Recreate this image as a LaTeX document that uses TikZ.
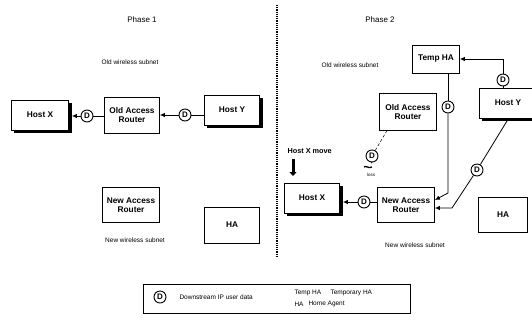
\documentclass[tikz,border=0pt]{standalone}
\usepackage{fontspec}
\setmainfont{Liberation Sans}
\usetikzlibrary{arrows.meta,calc}
\tikzset{
  box/.style={draw,line width=0.8pt,minimum width=#1,align=center,font=\fontsize{8.3}{9.3}\selectfont\bfseries,inner sep=1pt,fill=white},
  dcirc/.style={circle,draw,line width=0.9pt,inner sep=0pt,minimum size=12pt,fill=white,font=\fontsize{8}{8}\selectfont\bfseries},
  lbl/.style={font=\fontsize{6.5}{7.5}\selectfont},
  ttl/.style={font=\fontsize{8}{9}\selectfont},
  conn/.style={line width=0.8pt},
  arr/.style={line width=0.8pt,-{Latex[length=5pt,width=4.5pt]}}
}
\begin{document}
\begin{tikzpicture}[x=1pt,y=-1pt]
\useasboundingbox (0,0) rectangle (532,325);
% divider
\draw[line width=1.2pt,densely dotted] (277,5) -- (277,256);
% ---------- Phase 1 ----------
\node[ttl] (t1) at (142,20) {Phase 1};
\node[lbl] (ows1) at (130,62) {Old wireless subnet};
\node[box=57pt,minimum height=30pt] (hx1) at (40,115) {Host X};
\node[box=55pt,minimum height=36pt] (oar1) at (132,115) {Old Access\\Router};
\node[box=55pt,minimum height=30pt] (hy1) at (232,110) {Host Y};
\node[dcirc] (d1) at (87,116) {D};
\node[dcirc] (d2) at (185,115) {D};
\draw[conn] (oar1.west |- d1) -- (d1);
\draw[arr] (d1) -- ([xshift=3pt]hx1.east |- d1);
\draw[conn] (hy1.west |- d2) -- (d2);
\draw[arr] (d2) -- (oar1.east |- d2);
\node[box=57pt,minimum height=35pt] (nar1) at (131,205) {New Access\\Router};
\node[lbl] (nws1) at (135,240) {New wireless subnet};
\node[box=55pt,minimum height=36pt] (ha1) at (232,225) {HA};
% ---------- Phase 2 ----------
\node[ttl] (t2) at (380,20) {Phase 2};
\node[lbl] (ows2) at (350,65) {Old wireless subnet};
\node[box=47pt,minimum height=28pt] (tha) at (436,59) {Temp HA};
\node[box=58pt,minimum height=30pt] (hy2) at (508,103) {Host Y};
\node[box=57pt,minimum height=37pt] (oar2) at (408,112) {Old Access\\Router};
\node[dcirc] (d3) at (503,80) {D};
\node[dcirc] (d4) at (448,107) {D};
\node[dcirc] (d5) at (372,156) {D};
\node[dcirc] (d6) at (364,202) {D};
\node[dcirc] (d7) at (477,170) {D};
\node[font=\fontsize{7.3}{8}\selectfont\bfseries,anchor=west] (hxm) at (284,151) {Host X move};
\coordinate (mvs) at (293,159);
\coordinate (mve) at (293,176);
\draw[line width=3pt,-{Triangle[length=4pt,width=7pt]}] (mvs) -- (mve);
\node[box=55pt,minimum height=30pt] (hx2) at (312,198) {Host X};
\node[box=57pt,minimum height=35pt] (nar2) at (406,205) {New Access\\Router};
\node[lbl] (nws2) at (415,245) {New wireless subnet};
\node[box=49pt,minimum height=35pt] (ha2) at (503,215) {HA};
\node[font=\fontsize{4.5}{5}\selectfont] (loss) at (371,175) {loss};
% temp HA <- D3 <- host Y
\draw[conn] (hy2.north -| d3) -- (d3);
\draw[arr] (d3) |- (tha.east);
% temp HA -> D4 -> new router
\coordinate (thb) at (tha.south -| d4);
\coordinate (bend1) at (448,193);
\draw[conn] (thb) -- (d4);
\draw[arr] (d4) -- (bend1) -- (nar2.east |- 0,200);
% host Y -> D7 -> new router
\coordinate (hyb) at (507,121);
\coordinate (bend2) at (452,208);
\draw[conn] (hyb) -- (d7);
\draw[arr] (d7) -- (bend2) -- (nar2.east |- bend2);
% new router -> D6 -> host X
\draw[conn] (nar2.west |- d6) -- (d6);
\draw[arr] (d6) -- ([xshift=3pt]hx2.east |- d6);
% old router dashed to loss
\coordinate (oarb) at (387,130.5);
\draw[line width=0.5pt,densely dashed] (oarb) -- (d5);
\coordinate (lossa) at (371,163);
\draw[line width=1pt] (d5.south) -- (lossa);
\draw[line width=1.3pt] (364,167) .. controls (366,165) and (368,169) .. (372,167);
% ---------- box shadows (drawn last) ----------
\draw[line width=3pt] ([xshift=3pt,yshift=-1.5pt]hx1.south west) -| ([xshift=1.5pt,yshift=-3pt]hx1.north east);
\draw[line width=3pt] ([xshift=3pt,yshift=-1.5pt]hy1.south west) -| ([xshift=1.5pt,yshift=-3pt]hy1.north east);
\draw[line width=3pt] ([xshift=3pt,yshift=-1.5pt]hy2.south west) -| ([xshift=1.5pt,yshift=-3pt]hy2.north east);
\draw[line width=3pt] ([xshift=3pt,yshift=-1.5pt]hx2.south west) -| ([xshift=1.5pt,yshift=-3pt]hx2.north east);
% ---------- Legend ----------
\node[draw,line width=0.8pt,minimum width=267pt,minimum height=29pt] (leg) at (276.5,298.5) {};
\node[dcirc] (dl) at (160,297) {D};
\node[lbl,anchor=west] (l1) at (176,297) {Downstream IP user data};
\node[lbl,anchor=west] (l2) at (291,293) {Temp HA};
\node[lbl,anchor=west] (l3) at (327,293) {Temporary HA};
\node[lbl,anchor=west] (l4) at (291,304) {HA};
\node[lbl,anchor=west] (l5) at (305,304) {Home Agent};
\end{tikzpicture}
\end{document}
